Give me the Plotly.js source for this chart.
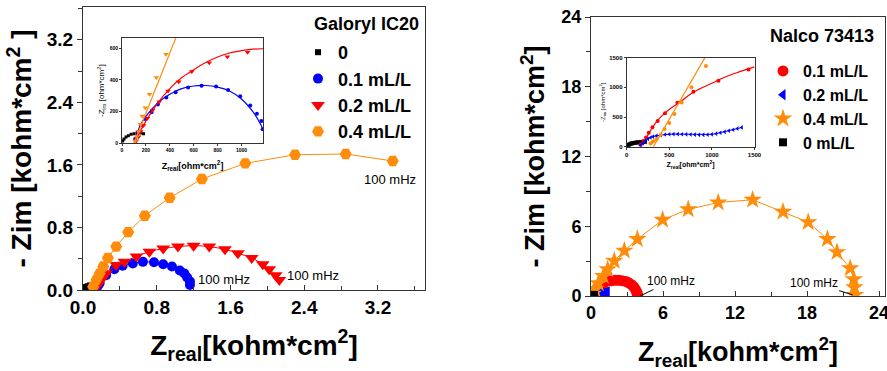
<!DOCTYPE html>
<html><head><meta charset="utf-8">
<script src="https://cdn.plot.ly/plotly-3.0.1.min.js"></script>
<style>html,body{margin:0;padding:0;background:#fff}#chart{width:887px;height:371px}</style>
</head><body><div id="chart"></div>
<script>
// ---------- Left panel: Galoryl IC20 (kohm*cm2) ----------
const gal_0_x   = [0.006,0.017,0.034,0.053,0.076,0.101,0.129,0.157,0.180];
const gal_0_y   = [0.015,0.027,0.040,0.048,0.057,0.061,0.065,0.065,0.061];
const gal_01_x  = [0.15,0.18,0.25,0.34,0.43,0.54,0.65,0.77,0.87,0.965,1.05,1.10,1.13,1.16,1.16];
const gal_01_y  = [0.03,0.086,0.19,0.265,0.31,0.34,0.36,0.354,0.33,0.30,0.25,0.21,0.16,0.11,0.064];
const gal_02_x  = [0.13,0.16,0.20,0.25,0.36,0.45,0.58,0.72,0.87,1.03,1.20,1.37,1.54,1.68,1.83,1.95,2.02,2.09,2.13];
const gal_02_y  = [0.02,0.064,0.13,0.21,0.32,0.36,0.43,0.49,0.53,0.555,0.567,0.555,0.52,0.47,0.41,0.33,0.265,0.19,0.128];
const gal_04_x  = [0.11,0.145,0.18,0.22,0.27,0.36,0.49,0.67,0.94,1.29,1.76,2.30,2.85,3.36];
const gal_04_y  = [0.043,0.13,0.21,0.30,0.41,0.555,0.74,0.95,1.18,1.42,1.62,1.73,1.74,1.65];

// Left inset (ohm*cm2)
const galIn_0_x  = [6,17,34,53,76,101,129,157,180];
const galIn_0_y  = [15,27,40,48,57,61,65,65,61];
const galIn_01_x = [110,130,157,194,247,300,371,449,553,666,787,888,989,1073,1129,1166,1177];
const galIn_01_y = [27,70,116,154,196,245,290,322,352,364,358,337,297,238,187,141,88];
const galIn_01_fx = [105,150,200,300,400,500,600,700,800,900,1000,1100,1160,1180];
const galIn_01_fy = [0,110,170,255,310,345,362,365,355,330,280,195,120,85];
const galIn_02_x = [118,138,157,180,213,256,312,385,475,584,730,882,1051];
const galIn_02_y = [15,42,74,112,158,208,263,331,389,453,509,547,575];
const galIn_02_fx = [100,200,300,400,500,600,700,800,900,1000,1100,1180];
const galIn_02_fy = [0,140,255,345,415,465,510,545,570,585,595,597];
const galIn_04_x = [110,124,138,154,169,194,230,287,368];
const galIn_04_y = [15,42,74,120,173,225,309,415,562];
const galIn_04_fx = [100,460];
const galIn_04_fy = [0,684];

// ---------- Right panel: Nalco 73413 (kohm*cm2) ----------
const nal_01_x = [0.165,0.196,0.227,0.26,0.30,0.36,0.45,0.60,0.78,1.07,1.43,1.70,2.00,2.30,2.60,2.90,3.15,3.38,3.56,3.70,3.80,3.86,3.90];
const nal_01_y = [0.04,0.11,0.16,0.24,0.33,0.43,0.56,0.74,0.93,1.11,1.28,1.32,1.35,1.35,1.32,1.25,1.13,0.97,0.78,0.57,0.37,0.20,0.06];
const nal_02_x = [0.16,0.19,0.22,0.25,0.28,0.31,0.35,0.40,0.45,0.50,0.55,0.60,0.65,0.70,0.75,0.80,0.85,0.90,0.95,1.00,1.05,1.10,1.15,1.20,1.25,1.30,1.35];
const nal_02_y = [0.02,0.06,0.10,0.13,0.155,0.17,0.185,0.195,0.205,0.21,0.212,0.212,0.21,0.208,0.205,0.203,0.20,0.20,0.202,0.208,0.22,0.235,0.25,0.268,0.285,0.305,0.325];
const nal_04_x = [0.15,0.33,0.61,1.03,1.39,1.94,2.78,3.86,5.97,8.10,10.6,13.47,16.0,18.1,19.7,20.5,21.6,21.9,21.95,22.0];
const nal_04_y = [0.20,0.58,1.09,1.72,2.30,3.02,3.90,4.89,6.55,7.45,8.04,8.28,7.24,6.35,4.89,3.77,2.39,1.44,0.75,0.09];
const nal_0_x  = [0.000,0.010,0.020,0.035,0.050,0.070,0.090,0.110,0.130,0.150,0.170,0.190,0.210,0.220];
const nal_0_y  = [0.000,0.020,0.035,0.048,0.057,0.065,0.070,0.074,0.077,0.080,0.083,0.086,0.090,0.092];

// Right inset (ohm*cm2)
const nalIn_01_x = [165,196,227,259,302,364,450,595,783,1077,1430];
const nalIn_01_y = [39,96,157,236,326,433,562,741,927,1112,1303];
const nalIn_01_fx = [165,200,250,300,360,450,550,650,750,850,1000,1150,1300,1500];
const nalIn_01_fy = [0,80,200,320,440,570,680,780,890,970,1070,1170,1250,1345];
const nalIn_02_x = [160,190,220,250,280,310,350,400,450,500,550,600,650,700,750,800,850,900,950,1000,1050,1100,1150,1200,1250,1300,1350];
const nalIn_02_y = [20,60,100,130,155,170,185,195,205,210,212,212,210,208,205,203,200,200,202,208,220,235,250,268,285,305,325];
const nalIn_04_x = [280,310,350,400,445,500,560,645,760,930];
const nalIn_04_y = [60,90,130,200,300,400,550,745,1000,1360];
const nalIn_04_fx = [313,920,null,270,400];
const nalIn_04_fy = [0,1506,null,20,190];
const nalIn_0_x  = [0,8,20,31,45,59,78,98,118,137,157,176,196,215];
const nalIn_0_y  = [0,11,28,39,50,56,62,67,70,73,76,79,82,84];

// ---------- Labels ----------
const galLegendTitle = 'Galoryl IC20';
const galNames = ['0','0.1 mL/L','0.2 mL/L','0.4 mL/L'];
const nalLegendTitle = 'Nalco 73413';
const nalNames = ['0.1 mL/L','0.2 mL/L','0.4 mL/L','0 mL/L'];
const mainXTitle = 'Z<sub>real</sub>[kohm*cm<sup>2</sup>]';
const galYTitle = '- Zim [kohm*cm<sup>2</sup> ]';
const nalYTitle = '- Zim [kohm*cm<sup>2</sup>]';
const insetXTitle = 'Z<sub>real</sub>[ohm*cm<sup>2</sup>]';
const insetYTitle = '-Z<sub>im</sub> [ohm*cm<sup>2</sup>]';
const freqLabel = '100 mHz';

// ---------- styling ----------
const FONT = 'Arial, "Liberation Sans", sans-serif';
const BLACK = '#000000', BLUE = '#0000FF', RED = '#FF0000', ORANGE = '#FF8C0A';
const W = 887, H = 371;
const px = v => v / W;
const py = v => 1 - v / H;

const traces = [];
function mk(x, y, xa, ya, color, symbol, size, name, legend, showlegend) {
  return {type:'scatter', mode:'markers', x, y, xaxis:xa, yaxis:ya, name: name || '',
    legend: legend || 'legend', showlegend: !!showlegend,
    marker:{color, symbol, size, line:{width:0}}, hoverinfo:'skip'};
}
function ln(x, y, xa, ya, color, width, shape) {
  return {type:'scatter', mode:'lines', x, y, xaxis:xa, yaxis:ya, showlegend:false,
    line:{color, width: width || 1, shape: shape || 'linear'}, connectgaps:false, hoverinfo:'skip'};
}

// Left main
traces.push(mk(gal_0_x, gal_0_y, 'x', 'y', BLACK, 'square', 6, galNames[0], 'legend', true));
traces.push(ln(gal_01_x, gal_01_y, 'x', 'y', BLUE, 1, 'spline'));
traces.push(mk(gal_01_x, gal_01_y, 'x', 'y', BLUE, 'circle', 10, galNames[1], 'legend', true));
traces.push(ln(gal_02_x, gal_02_y, 'x', 'y', RED, 1, 'spline'));
traces.push(mk(gal_02_x, gal_02_y, 'x', 'y', RED, 'triangle-down', 12, galNames[2], 'legend', true));
traces.push(ln(gal_04_x, gal_04_y, 'x', 'y', ORANGE, 1));
traces.push(mk(gal_04_x, gal_04_y, 'x', 'y', ORANGE, 'hexagon2', 12, galNames[3], 'legend', true));

// Left inset
traces.push(mk(galIn_0_x, galIn_0_y, 'x2', 'y2', BLACK, 'square', 3));
traces.push(ln(galIn_01_fx, galIn_01_fy, 'x2', 'y2', BLUE, 1.2, 'spline'));
traces.push(mk(galIn_01_x, galIn_01_y, 'x2', 'y2', BLUE, 'circle', 4));
traces.push(ln(galIn_02_fx, galIn_02_fy, 'x2', 'y2', RED, 1.2, 'spline'));
traces.push(mk(galIn_02_x, galIn_02_y, 'x2', 'y2', RED, 'triangle-down', 5));
traces.push(ln(galIn_04_fx, galIn_04_fy, 'x2', 'y2', ORANGE, 1.2));
traces.push(mk(galIn_04_x, galIn_04_y, 'x2', 'y2', ORANGE, 'triangle-down', 5));

// Right main
traces.push(mk(nal_01_x, nal_01_y, 'x3', 'y3', RED, 'circle', 11, nalNames[0], 'legend2', true));
traces.push(mk(nal_02_x, nal_02_y, 'x3', 'y3', BLUE, 'triangle-left', 10, nalNames[1], 'legend2', true));
traces.push(ln(nal_04_x, nal_04_y, 'x3', 'y3', ORANGE, 1));
traces.push(mk(nal_04_x, nal_04_y, 'x3', 'y3', ORANGE, 'star', 14, nalNames[2], 'legend2', true));
traces.push(mk(nal_0_x, nal_0_y, 'x3', 'y3', BLACK, 'square', 8, nalNames[3], 'legend2', true));

// Right inset
traces.push(mk(nalIn_0_x, nalIn_0_y, 'x4', 'y4', BLACK, 'square', 4));
traces.push(ln(nalIn_01_fx, nalIn_01_fy, 'x4', 'y4', RED, 1.2, 'spline'));
traces.push(mk(nalIn_01_x, nalIn_01_y, 'x4', 'y4', RED, 'circle', 4));
traces.push(ln(nalIn_02_x, nalIn_02_y, 'x4', 'y4', BLUE, 1));
traces.push(mk(nalIn_02_x, nalIn_02_y, 'x4', 'y4', BLUE, 'triangle-left', 4));
traces.push(ln(nalIn_04_fx, nalIn_04_fy, 'x4', 'y4', ORANGE, 1.2));
traces.push(mk(nalIn_04_x, nalIn_04_y, 'x4', 'y4', ORANGE, 'circle', 4));

const AX = '#333333';
function axis(o) {
  return Object.assign({showgrid:false, zeroline:false, showline:true, linecolor:AX, linewidth:1,
    mirror:true, tickcolor:AX, automargin:false, fixedrange:true, ticklabeloverflow:'allow'}, o);
}
const tickBig = {family:FONT, size:19, weight:'bold', color:'#000'};
const tickBigR = {family:FONT, size:18, weight:'bold', color:'#000'};

const layout = {
  width:W, height:H, margin:{l:0, r:0, t:0, b:0},
  paper_bgcolor:'#fff', plot_bgcolor:'rgba(0,0,0,0)',
  font:{family:FONT, color:'#000'},
  // Left main
  xaxis: axis({domain:[px(83), px(425)], anchor:'y', range:[0,3.71], tick0:0, dtick:0.8, tickformat:'.1f',
    ticks:'inside', ticklen:5, tickfont:tickBig, minor:{dtick:0.4, ticks:'inside', ticklen:4, tickcolor:AX},
    title:{text:mainXTitle, font:{family:FONT, size:28, weight:'bold', color:'#000'}, standoff:18}}),
  yaxis: axis({domain:[py(290), py(7)], anchor:'x', range:[0,3.62], tick0:0, dtick:0.8, tickformat:'.1f',
    ticks:'outside', ticklen:5, tickfont:tickBig, minor:{dtick:0.4, ticks:'outside', ticklen:4, tickcolor:AX},
    title:{text:galYTitle, font:{family:FONT, size:28, weight:'bold', color:'#000'}, standoff:6}}),
  // Left inset
  xaxis2: axis({domain:[px(122), px(263)], anchor:'y2', range:[0,1180], dtick:200, ticks:'outside', ticklen:2,
    tickfont:{family:FONT, size:5, weight:'bold', color:'#000'},
    title:{text:insetXTitle, font:{family:FONT, size:9, weight:'bold', color:'#000'}, standoff:10}}),
  yaxis2: axis({domain:[py(143.3), py(38)], anchor:'x2', range:[0,665], dtick:200, ticks:'outside', ticklen:2,
    tickfont:{family:FONT, size:5, weight:'bold', color:'#000'},
    title:{text:insetYTitle, font:{family:FONT, size:8, color:'#000'}, standoff:3}}),
  // Right main
  xaxis3: axis({domain:[px(591), px(885)], anchor:'y3', range:[0,24.5], tick0:0, dtick:6,
    ticks:'inside', ticklen:5, tickfont:tickBigR, minor:{dtick:3, ticks:'inside', ticklen:4, tickcolor:AX},
    title:{text:mainXTitle, font:{family:FONT, size:27, weight:'bold', color:'#000'}, standoff:22}}),
  yaxis3: axis({domain:[py(296), py(17)], anchor:'x3', range:[0,24], tick0:0, dtick:6,
    ticks:'outside', ticklen:5, tickfont:tickBigR, minor:{dtick:3, ticks:'outside', ticklen:4, tickcolor:AX},
    title:{text:nalYTitle, font:{family:FONT, size:27, weight:'bold', color:'#000'}, standoff:8}}),
  // Right inset
  xaxis4: axis({domain:[px(626.7), px(754.5)], anchor:'y4', range:[0,1500], dtick:500, ticks:'outside', ticklen:2,
    tickfont:{family:FONT, size:6, weight:'bold', color:'#000'},
    title:{text:insetXTitle, font:{family:FONT, size:7, weight:'bold', color:'#000'}, standoff:5}}),
  yaxis4: axis({domain:[py(146.7), py(57.7)], anchor:'x4', range:[0,1500], dtick:500, ticks:'outside', ticklen:2,
    tickfont:{family:FONT, size:6, weight:'bold', color:'#000'},
    title:{text:insetYTitle, font:{family:FONT, size:6, color:'#000'}, standoff:3}}),
  legend: {x:px(298), xanchor:'left', y:py(34), yanchor:'top', bgcolor:'rgba(0,0,0,0)', borderwidth:0,
    font:{family:FONT, size:18, weight:'bold', color:'#000'}, itemclick:false, itemdoubleclick:false},
  legend2: {x:px(763), xanchor:'left', y:py(54), yanchor:'top', bgcolor:'rgba(0,0,0,0)', borderwidth:0,
    font:{family:FONT, size:16, weight:'bold', color:'#000'}, itemclick:false, itemdoubleclick:false},
  annotations: [
    {xref:'paper', yref:'paper', x:px(366), y:py(24), xanchor:'center', yanchor:'middle', showarrow:false,
     text:galLegendTitle, font:{family:FONT, size:18, weight:'bold', color:'#000'}},
    {xref:'paper', yref:'paper', x:px(822), y:py(36), xanchor:'center', yanchor:'middle', showarrow:false,
     text:nalLegendTitle, font:{family:FONT, size:18, weight:'bold', color:'#000'}},
    {xref:'x', yref:'y', x:3.33, y:1.41, showarrow:false, text:freqLabel, font:{family:FONT, size:13, color:'#000'}},
    {xref:'x', yref:'y', x:1.53, y:0.14, showarrow:false, text:freqLabel, font:{family:FONT, size:13, color:'#000'}},
    {xref:'x', yref:'y', x:2.49, y:0.18, showarrow:false, text:freqLabel, font:{family:FONT, size:13, color:'#000'}},
    {xref:'x3', yref:'y3', x:4.08, y:0, ax:31, ay:-15, showarrow:true, arrowhead:0, arrowwidth:1, arrowcolor:'#000',
     text:freqLabel, font:{family:FONT, size:12, color:'#000'}},
    {xref:'x3', yref:'y3', x:21.8, y:0.1, ax:-39, ay:-12, showarrow:true, arrowhead:0, arrowwidth:1, arrowcolor:'#000',
     text:freqLabel, font:{family:FONT, size:12, color:'#000'}}
  ],
  showlegend:true
};

Plotly.newPlot('chart', traces, layout, {staticPlot:true, displayModeBar:false});
</script></body></html>
